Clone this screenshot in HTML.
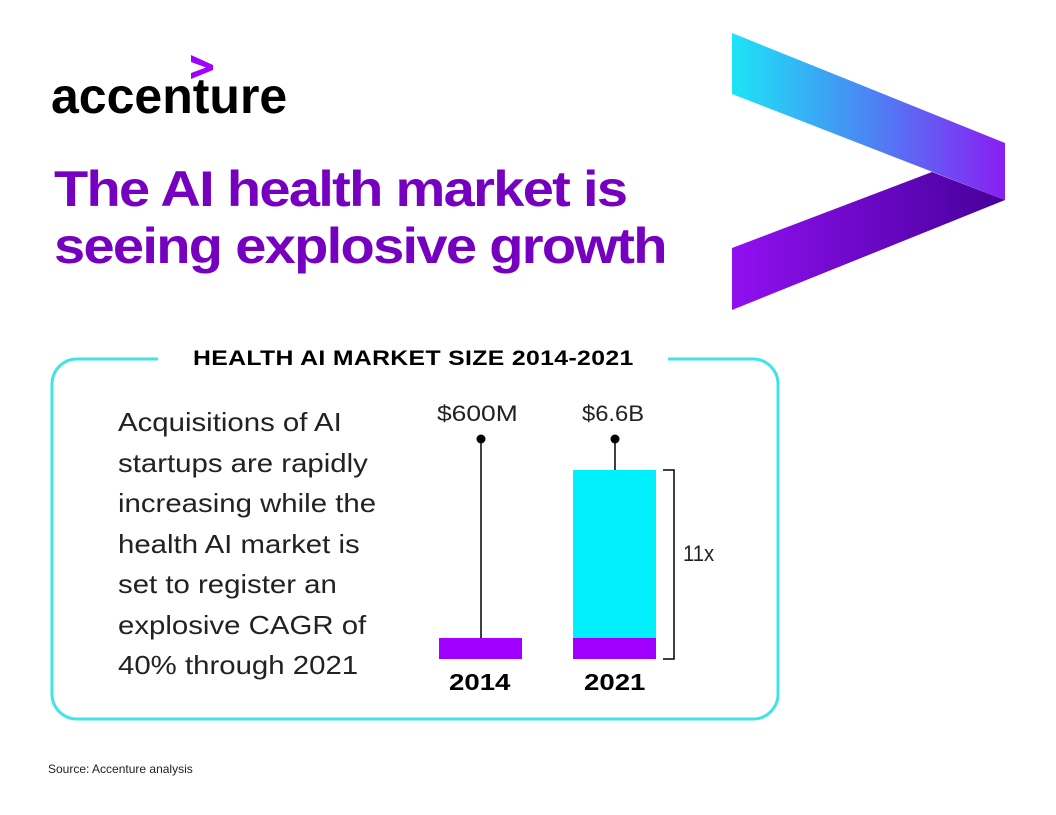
<!DOCTYPE html>
<html><head><meta charset="utf-8"><style>
body{margin:0;width:1056px;height:815px;background:#fff;position:relative;overflow:hidden;font-family:"Liberation Sans",sans-serif}
.a{position:absolute;white-space:nowrap;transform-origin:0 0}
</style></head><body>
<svg class="a" style="left:0;top:0" width="1056" height="815">
<defs>
<linearGradient id="g1" x1="732" y1="0" x2="1005" y2="0" gradientUnits="userSpaceOnUse"><stop offset="0" stop-color="#1de4f6"/><stop offset="0.5" stop-color="#4a86f4"/><stop offset="1" stop-color="#8a1ef2"/></linearGradient>
<linearGradient id="g2" x1="732" y1="0" x2="1005" y2="0" gradientUnits="userSpaceOnUse"><stop offset="0" stop-color="#9010f0"/><stop offset="1" stop-color="#46009a"/></linearGradient>
</defs>
<polygon points="732,33 1005,143 1005,200 732,94" fill="url(#g1)"/>
<polygon points="932,172 1005,200 732,310 732,248" fill="url(#g2)"/>
<polygon points="191,55 213,65 213,70 191,79 191,73 206,67.5 191,62" fill="#a100ff"/>
<path d="M158 359 H77 A25 25 0 0 0 52 384 V694 A25 25 0 0 0 77 719 H753 A25 25 0 0 0 778 694 V384 A25 25 0 0 0 753 359 H668" fill="none" stroke="#3fe3e8" stroke-width="3"/>
<rect x="439" y="638" width="83" height="21" fill="#a100ff"/>
<rect x="573" y="470" width="83" height="168" fill="#00f0fe"/>
<rect x="573" y="638" width="83" height="21" fill="#a100ff"/>
<line x1="481" y1="439" x2="481" y2="638" stroke="#000" stroke-width="1.5"/>
<line x1="615" y1="439" x2="615" y2="470" stroke="#000" stroke-width="1.5"/>
<circle cx="481" cy="439" r="4.5"/><circle cx="615" cy="439" r="4.5"/>
<polyline points="663,470 674,470 674,659 663,659" fill="none" stroke="#000" stroke-width="1.5"/>
</svg>
<div class="a" style="left:51px;top:67px;font-size:50px;font-weight:bold;letter-spacing:0;color:#000">accenture</div>
<div class="a" style="left:54px;top:161px;font-size:50px;line-height:57px;font-weight:bold;letter-spacing:-1.5px;color:#7500c0;transform:scaleX(1.12)">The AI health market is<br>seeing explosive growth</div>
<div class="a" style="left:193px;top:347px;font-size:21px;font-weight:bold;color:#000;letter-spacing:0.3px;transform:scaleX(1.18)">HEALTH AI MARKET SIZE 2014-2021</div>
<div class="a" style="left:118px;top:402px;font-size:26px;line-height:40.5px;color:#222;transform:scaleX(1.13)">Acquisitions of AI<br>startups are rapidly<br>increasing while the<br>health AI market is<br>set to register an<br>explosive CAGR of<br>40% through 2021</div>
<div class="a" style="left:437px;top:401px;font-size:22px;color:#222;transform:scaleX(1.2)">$600M</div>
<div class="a" style="left:582px;top:401px;font-size:22px;color:#222;transform:scaleX(1.08)">$6.6B</div>
<div class="a" style="left:683px;top:541px;font-size:22px;color:#222;transform:scaleX(0.92)">11x</div>
<div class="a" style="left:449px;top:669px;font-size:23px;font-weight:bold;color:#000;transform:scaleX(1.2)">2014</div>
<div class="a" style="left:584px;top:669px;font-size:23px;font-weight:bold;color:#000;transform:scaleX(1.2)">2021</div>
<div class="a" style="left:48px;top:762px;font-size:12px;color:#222">Source: Accenture analysis</div>
</body></html>
